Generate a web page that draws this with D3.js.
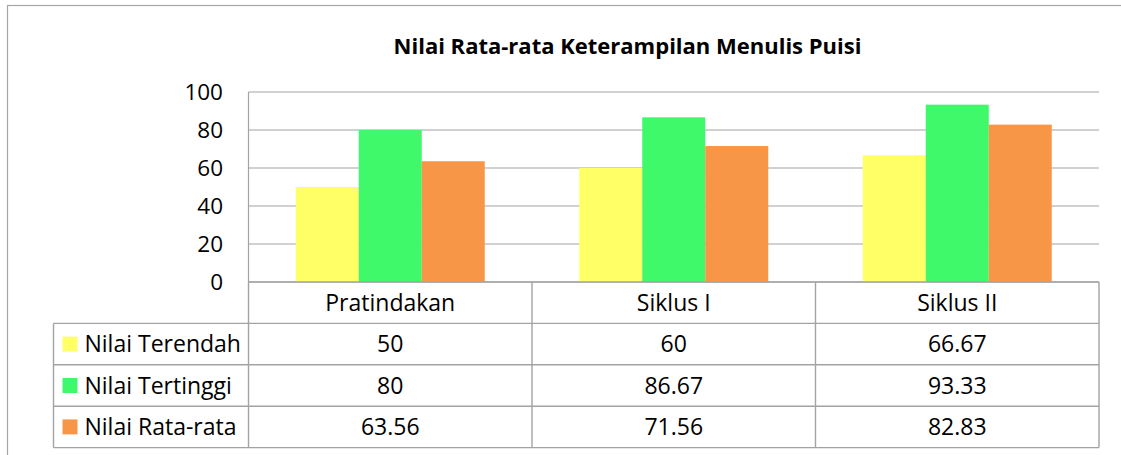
<!DOCTYPE html>
<html>
<head>
<meta charset="utf-8">
<script src="https://cdn.jsdelivr.net/npm/d3@7"></script>
<style>
  body { margin: 0; background: #fff; }
  svg { display: block; font-family: "Open Sans", sans-serif; }
</style>
</head>
<body>
<svg id="chart" width="1121" height="455"></svg>
<script>
const categories = ['Pratindakan', 'Siklus I', 'Siklus II']
const seriesNames = ['Nilai Terendah', 'Nilai Tertinggi', 'Nilai Rata-rata']
const terendah = [50, 60, 66.67]
const tertinggi = [80, 86.67, 93.33]
const rataRata = [63.56, 71.56, 82.83]
const valueLabels = [
    ['50', '60', '66.67'],
    ['80', '86.67', '93.33'],
    ['63.56', '71.56', '82.83']
]
const yTicks = [0, 20, 40, 60, 80, 100]
const colors = ['#FFFF66', '#3FF96A', '#F79646']
const title = 'Nilai Rata-rata Keterampilan Menulis Puisi'

const seriesValues = [terendah, tertinggi, rataRata]

const svg = d3.select('#chart')
const plot = { left: 248.5, right: 1099, top: 92, bottom: 282 }
const table = { left: 53.5, rowH: 41.4 }
const gridColor = '#a3a3a3'
const textSize = 23

// chart outer border (cropped on right/bottom)
svg.append('rect')
    .attr('x', 7.5).attr('y', 5.5)
    .attr('width', 1300).attr('height', 600)
    .attr('fill', 'none')
    .attr('stroke', '#a6a6a6')
    .attr('stroke-width', 1.2)

svg.append('text')
    .attr('x', 627.5).attr('y', 53.5)
    .attr('text-anchor', 'middle')
    .attr('font-weight', 'bold')
    .attr('font-size', 22)
    .attr('fill', '#000')
    .text(title)

const x = d3.scaleBand().domain(categories).range([plot.left, plot.right])
const xs = d3.scaleBand().domain(seriesNames).range([0, x.bandwidth()]).paddingOuter(0.75)
const y = d3.scaleLinear().domain([0, 100]).range([plot.bottom, plot.top])

// gridlines
svg.append('g')
    .selectAll('line')
    .data(yTicks)
    .join('line')
    .attr('x1', plot.left).attr('x2', plot.right)
    .attr('y1', d => y(d)).attr('y2', d => y(d))
    .attr('stroke', gridColor)
    .attr('stroke-width', 1.2)

// y axis labels
svg.append('g')
    .selectAll('text')
    .data(yTicks)
    .join('text')
    .attr('x', 223)
    .attr('y', d => y(d))
    .attr('dy', '0.36em')
    .attr('text-anchor', 'end')
    .attr('font-size', 22.5)
    .attr('fill', '#000')
    .text(d => d)

// bars
const gBars = svg.append('g')
seriesNames.forEach((s, si) => {
    gBars.append('g')
        .attr('fill', colors[si])
        .selectAll('rect')
        .data(categories.map((c, ci) => ({ c, v: seriesValues[si][ci] })))
        .join('rect')
        .attr('x', d => x(d.c) + xs(s))
        .attr('width', xs.bandwidth())
        .attr('y', d => y(d.v))
        .attr('height', d => y(0) - y(d.v))
})

// value axis line
svg.append('line')
    .attr('x1', plot.left).attr('x2', plot.left)
    .attr('y1', plot.top).attr('y2', plot.bottom)
    .attr('stroke', gridColor).attr('stroke-width', 1.2)

// data table
const rowY = i => plot.bottom + i * table.rowH
const gTable = svg.append('g').attr('stroke', gridColor).attr('stroke-width', 1.4)
gTable.append('line')
    .attr('x1', plot.left).attr('x2', plot.right)
    .attr('y1', rowY(0)).attr('y2', rowY(0))
d3.range(1, 5).forEach(i => {
    gTable.append('line')
        .attr('x1', table.left).attr('x2', plot.right)
        .attr('y1', rowY(i)).attr('y2', rowY(i))
})
const colEdges = categories.map(c => x(c)).concat([plot.right])
colEdges.forEach(cx => {
    gTable.append('line')
        .attr('x1', cx).attr('x2', cx)
        .attr('y1', rowY(0)).attr('y2', rowY(4))
})
gTable.append('line')
    .attr('x1', table.left).attr('x2', table.left)
    .attr('y1', rowY(1)).attr('y2', rowY(4))

// category header
svg.append('g')
    .selectAll('text')
    .data(categories)
    .join('text')
    .attr('x', c => x(c) + x.bandwidth() / 2)
    .attr('y', rowY(0) + table.rowH / 2)
    .attr('dy', '0.36em')
    .attr('text-anchor', 'middle')
    .attr('font-size', textSize)
    .text(c => c)

// legend column + values
seriesNames.forEach((s, si) => {
    const cy = rowY(si + 1) + table.rowH / 2
    svg.append('rect')
        .attr('x', 62.5).attr('y', cy - 7.5)
        .attr('width', 15).attr('height', 15)
        .attr('fill', colors[si])
    svg.append('text')
        .attr('x', 84.5).attr('y', cy)
        .attr('dy', '0.36em')
        .attr('font-size', textSize)
        .text(s)
    svg.append('g')
        .selectAll('text')
        .data(categories)
        .join('text')
        .attr('x', c => x(c) + x.bandwidth() / 2)
        .attr('y', cy)
        .attr('dy', '0.36em')
        .attr('text-anchor', 'middle')
        .attr('font-size', textSize)
        .text((c, ci) => valueLabels[si][ci])
})
</script>
</body>
</html>
